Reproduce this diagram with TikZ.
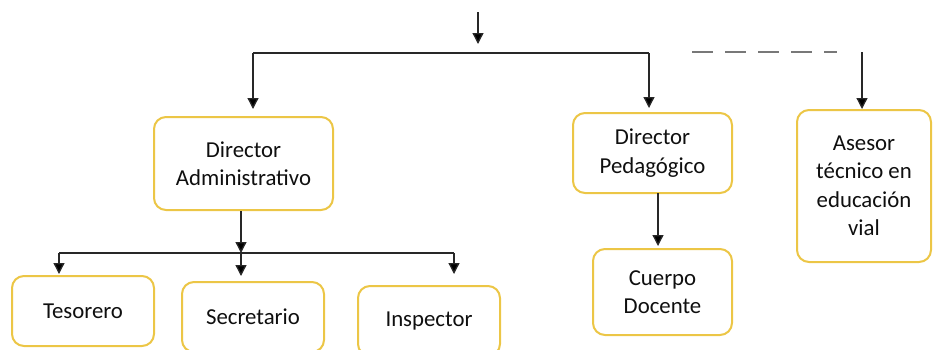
\documentclass[tikz,border=0pt]{standalone}
\usepackage{fontspec}
\setmainfont{Carlito}
\usetikzlibrary{arrows.meta,calc}
\definecolor{boxgold}{RGB}{236,198,70}
\definecolor{txt}{RGB}{15,15,15}
\definecolor{linegray}{RGB}{40,40,40}
\definecolor{dashgray}{RGB}{120,120,120}
\tikzset{
  orgbox/.style={draw=boxgold, line width=2pt, rounded corners=12pt, fill=white,
    text=txt, align=center, inner sep=0pt,
    font=\fontsize{22.8}{28.5}\selectfont},
  conn/.style={draw=linegray, line width=1.3pt},
  arr/.style={conn, -{Triangle[width=11pt,length=11pt,fill=black]}},
}
\begin{document}
\begin{tikzpicture}[x=1pt,y=-1pt]
\useasboundingbox (0,0) rectangle (933,349);
\clip (0,0) rectangle (933,349);

% boxes
\node[orgbox, minimum width=179pt, minimum height=93pt] (da) at (243.5,163.5) {Director\\Administrativo};
\node[orgbox, minimum width=159pt, minimum height=80pt] (dp) at (652.5,153) {Director\\Pedag\'ogico};
\node[orgbox, minimum width=139pt, minimum height=86pt] (cd) at (662.5,292) {Cuerpo\\Docente};
\node[orgbox, minimum width=134pt, minimum height=152pt] (as) at (864,186) {Asesor\\t\'ecnico en\\educaci\'on\\vial};
\node[orgbox, minimum width=142pt, minimum height=70pt] (tes) at (83,311) {Tesorero};
\node[orgbox, minimum width=142pt, minimum height=70pt] (sec) at (253,317) {Secretario};
\node[orgbox, minimum width=142pt, minimum height=70pt] (ins) at (429,321) {Inspector};

% coordinates
\coordinate (top) at (478,12);
\coordinate (topend) at (478,53);
\coordinate (barL) at (253,53);
\coordinate (barR) at (649,53);
\coordinate (bar2M) at (241,253);
\coordinate (bar2L) at (59,253);
\coordinate (bar2R) at (454,253);
\coordinate (dashL) at (692,52);
\coordinate (dashR) at (837,52);
\coordinate (asTop) at (862,52);
\coordinate (dpc) at (658,193);

% top connectors
\draw[arr, shorten >=9pt] (top) -- (topend);
\draw[conn] (barL) -- (barR);
\draw[arr, shorten >=7pt] (barL) -- (barL |- da.north);
\draw[arr, shorten >=4pt] (barR) -- (barR |- dp.north);

% Director Administrativo branch
\draw[arr] (da.south -| bar2M) -- (bar2M);
\draw[conn] (bar2L) -- (bar2R);
\draw[arr, shorten >=1pt] (bar2L) -- (bar2L |- tes.north);
\draw[arr, shorten >=5pt] (bar2M) -- (bar2M |- sec.north);
\draw[arr, shorten >=11pt] (bar2R) -- (bar2R |- ins.north);

% Director Pedagogico branch
\draw[arr, shorten >=2pt] (dpc) -- (dpc |- cd.north);

% Asesor
\draw[draw=dashgray, line width=2pt, dash pattern=on 21pt off 12pt] (dashL) -- (dashR);
\draw[arr] (asTop) -- (asTop |- as.north);
\end{tikzpicture}
\end{document}
